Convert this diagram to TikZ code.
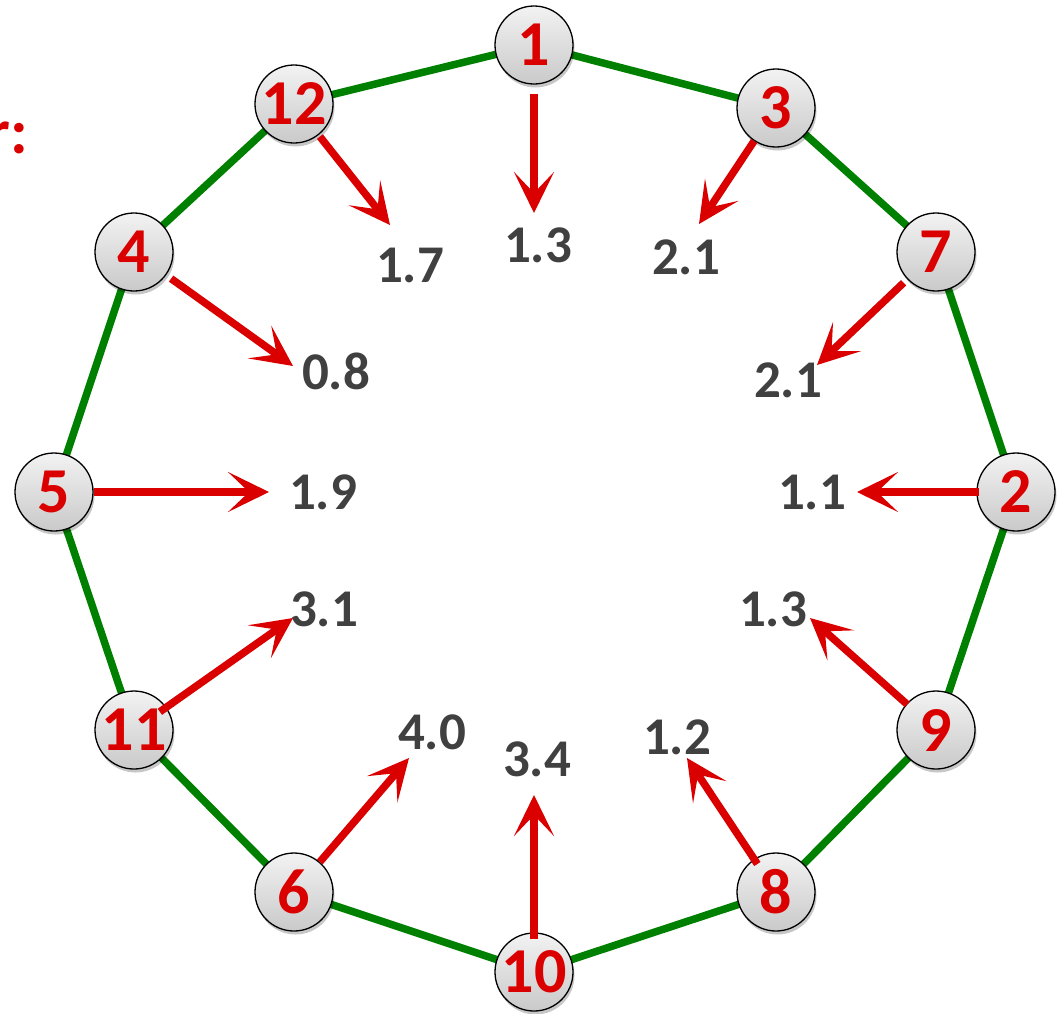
\documentclass[tikz,border=0pt]{standalone}
\usepackage{fontspec}
\setmainfont{Carlito}
\usetikzlibrary{arrows.meta,shadows}
\definecolor{myred}{RGB}{218,0,0}
\definecolor{mygreen}{RGB}{0,128,0}
\definecolor{valgray}{RGB}{64,64,64}
\begin{document}
\begin{tikzpicture}[x=1pt,y=-1pt,
  vert/.style={circle, draw=black, line width=1.3pt, minimum size=78pt, inner sep=0pt,
    top color=gray!10, bottom color=gray!42,
    drop shadow={shadow xshift=1.5pt, shadow yshift=-3.5pt, opacity=0.22, fill=black},
    text=myred, font=\bfseries\fontsize{64}{64}\selectfont},
  val/.style={text=valgray, inner sep=0pt, font=\bfseries\fontsize{53}{53}\selectfont},
  edge/.style={mygreen, line width=7.5pt},
  arr/.style={myred, line width=7.5pt, -{Stealth[length=41pt,width=40pt,inset=21pt]}}]
\useasboundingbox (0,0) rectangle (1059,1013);
\fill[white] (0,0) rectangle (1059,1013);

% cut-off title text
\node[text=myred, font=\bfseries\fontsize{64}{64}\selectfont, anchor=base east, inner sep=0pt] (title) at (28,153) {r:};

% coordinates of vertices
\coordinate (p1) at (534,45);
\coordinate (p3) at (776,108);
\coordinate (p7) at (936,252);
\coordinate (p2) at (1016,492);
\coordinate (p9) at (936,730);
\coordinate (p8) at (776,892);
\coordinate (p10) at (534,972);
\coordinate (p6) at (294,892);
\coordinate (p11) at (134,730);
\coordinate (p5) at (54,492);
\coordinate (p4) at (134,252);
\coordinate (p12) at (294,104);

% green polygon edges
\draw[edge] (p1) -- (p3) -- (p7) -- (p2) -- (p9) -- (p8) -- (p10) -- (p6) -- (p11) -- (p5) -- (p4) -- (p12) -- cycle;

% vertex nodes
\foreach \i in {1,3,7,2,9,8,10,6,11,5,4,12}{
  \node[vert] (n\i) at (p\i) {\i};
}

% value labels
\node[val] (v1) at (538,245) {1.3};
\node[val] (v3) at (686,257) {2.1};
\node[val] (v7) at (788,380) {2.1};
\node[val] (v2) at (812,492) {1.1};
\node[val] (v9) at (773,609) {1.3};
\node[val] (v8) at (677,737) {1.2};
\node[val] (v10) at (537,759) {3.4};
\node[val] (v6) at (432,732) {4.0};
\node[val] (v11) at (324,609) {3.1};
\node[val] (v5) at (323,492) {1.9};
\node[val] (v4) at (336,371) {0.8};
\node[val] (v12) at (410,265) {1.7};

% arrow tips
\coordinate (t1) at (534,213);
\coordinate (t3) at (699,224);
\coordinate (t7) at (817,365);
\coordinate (t2) at (857,492);
\coordinate (t9) at (810,618);
\coordinate (t8) at (687,758);
\coordinate (t10) at (534,795);
\coordinate (t6) at (409,758);
\coordinate (t11) at (293,618);
\coordinate (t5) at (269,492);
\coordinate (t4) at (293,366);
\coordinate (t12) at (390,225);

% red arrows
\draw[arr, shorten <=9pt] (n1) -- (t1);
\draw[arr] (n3) -- (t3);
\draw[arr, shorten <=5pt] (n7) -- (t7);
\draw[arr, shorten <=-3pt] (n2) -- (t2);
\draw[arr, shorten <=-1pt] (n9) -- (t9);
\draw[arr, shorten <=-6pt] (n8) -- (t8);
\draw[arr, shorten <=-7pt] (n10) -- (t10);
\draw[arr] (n6) -- (t6);
\draw[arr, shorten <=-8pt] (n11) -- (t11);
\draw[arr] (n5) -- (t5);
\draw[arr, shorten <=6pt] (n4) -- (t4);
\draw[arr, shorten <=2pt] (n12) -- (t12);
\end{tikzpicture}
\end{document}
